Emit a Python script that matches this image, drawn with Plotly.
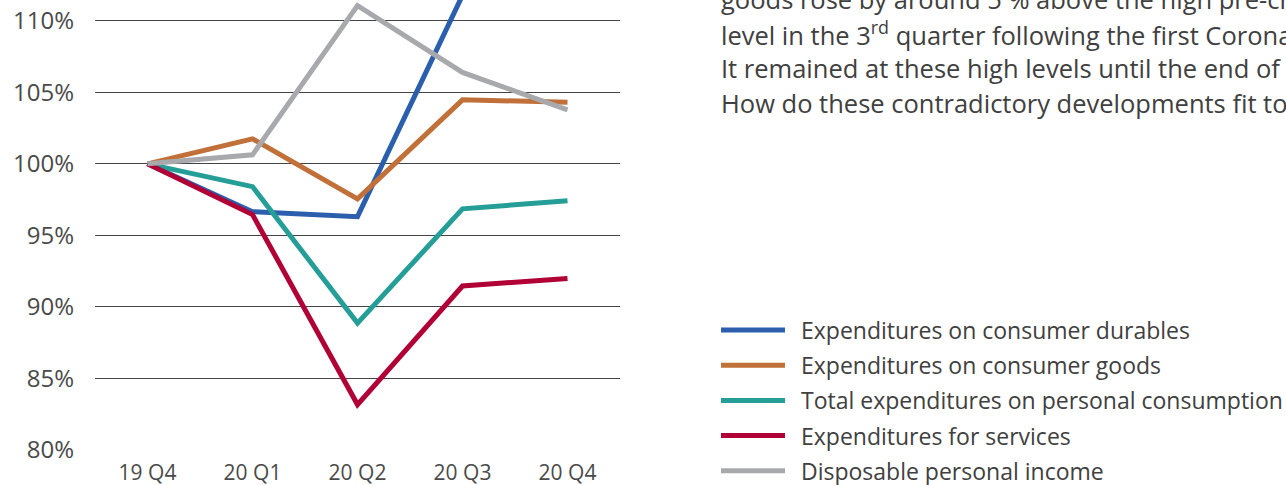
import plotly.graph_objects as go

quarters = ["19 Q4", "20 Q1", "20 Q2", "20 Q3", "20 Q4"]

durables = [100.0, 96.65, 96.3, 111.8, 112.4]
consumer_goods = [100.0, 101.75, 97.55, 104.48, 104.31]
total_consumption = [100.0, 98.4, 88.85, 96.85, 97.41]
services = [100.0, 96.45, 83.15, 91.45, 91.98]
disposable_income = [100.0, 100.63, 111.07, 106.4, 103.78]

series_names = [
    "Expenditures on consumer durables",
    "Expenditures on consumer goods",
    "Total expenditures on personal consumption",
    "Expenditures for services",
    "Disposable personal income",
]
series_values = [durables, consumer_goods, total_consumption, services, disposable_income]
colors = ["#2b5fad", "#c07038", "#259e98", "#b00035", "#a8a9ad"]

y_ticks = [80, 85, 90, 95, 100, 105, 110]
y_tick_labels = [f"{v}%" for v in y_ticks]

paragraph_lines = [
    "goods rose by around 5 % above the high pre-crisis",
    "level in the 3<sup>rd</sup> quarter following the first Corona wave.",
    "It remained at these high levels until the end of the year.",
    "How do these contradictory developments fit together?",
]

W, H = 1286, 485
L, R, T, B = 95, 666, 0, 35
PW, PH = W - L - R, H - T - B

def px_x(x):
    return (x - L) / PW

def px_y(y):
    return (H - B - y) / PH

FONT = "Open Sans"
TEXT_COLOR = "#404040"
TICK_COLOR = "#4a4a4a"

fig = go.Figure()
for name, vals, col in zip(series_names, series_values, colors):
    fig.add_trace(go.Scatter(
        x=quarters, y=vals, mode="lines", name=name,
        line=dict(color=col, width=5), showlegend=False,
        hoverinfo="skip",
    ))

shapes = []
annotations = []
legend_y0 = 330
legend_step = 35.2
for i, (name, col) in enumerate(zip(series_names, colors)):
    yy = legend_y0 + i * legend_step
    shapes.append(dict(
        type="line", xref="paper", yref="paper",
        x0=px_x(721), x1=px_x(785), y0=px_y(yy), y1=px_y(yy),
        line=dict(color=col, width=5),
    ))
    annotations.append(dict(
        xref="paper", yref="paper", x=px_x(799), y=px_y(yy),
        text=name, showarrow=False, xanchor="left", yanchor="middle",
        font=dict(family=FONT, size=23, color=TEXT_COLOR),
    ))

para_y0 = -1.0
para_step = 34.7
for i, line in enumerate(paragraph_lines):
    yy = para_y0 + i * para_step
    annotations.append(dict(
        xref="paper", yref="paper", x=px_x(719), y=px_y(yy),
        text=line, showarrow=False, xanchor="left", yanchor="middle",
        font=dict(family=FONT, size=25.5, color=TEXT_COLOR),
    ))

fig.update_layout(
    width=W, height=H,
    margin=dict(l=L, r=R, t=T, b=B, pad=0),
    paper_bgcolor="white", plot_bgcolor="white",
    showlegend=False,
    shapes=shapes, annotations=annotations,
    font=dict(family=FONT, size=22, color=TICK_COLOR),
)
fig.update_xaxes(
    type="category", range=[-0.5, 4.5],
    showgrid=False, showline=False, zeroline=False, ticks="",
    ticklabelstandoff=8,
    tickfont=dict(family=FONT, size=21, color=TICK_COLOR),
)
fig.update_yaxes(
    range=[79.97, 110 + 21 / 14.32],
    tickvals=y_ticks, ticktext=y_tick_labels,
    showgrid=True, gridcolor="#444444", gridwidth=1,
    showline=False, zeroline=False, ticks="",
    ticklabelstandoff=20,
    tickfont=dict(family=FONT, size=24, color=TICK_COLOR),
)

fig.write_html("out.html")
